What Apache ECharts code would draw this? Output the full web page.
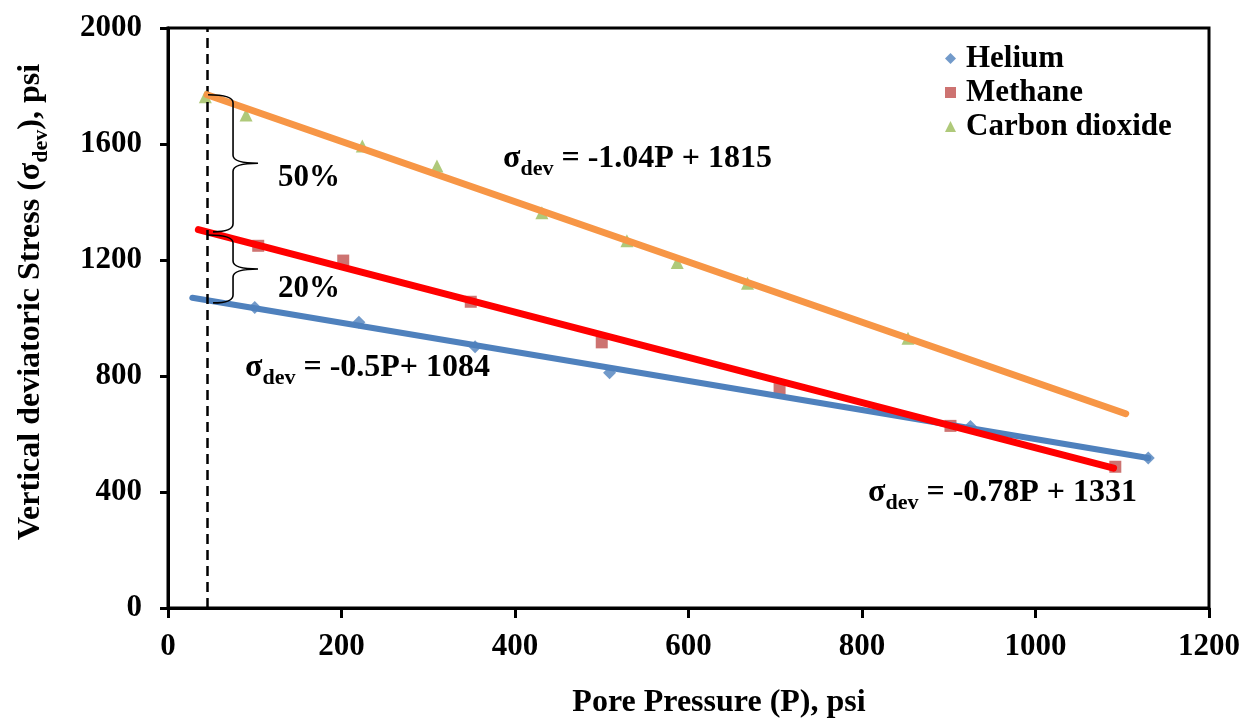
<!DOCTYPE html>
<html>
<head>
<meta charset="utf-8">
<script src="https://cdn.jsdelivr.net/npm/echarts@6/dist/echarts.min.js"></script>
<style>html,body{margin:0;padding:0;background:#fff}#c{width:1246px;height:723px}</style>
</head>
<body>
<div id="c"></div>
<script>
// ---- data ----
const xTicks = [0, 200, 400, 600, 800, 1000, 1200];
const yTicks = [0, 400, 800, 1200, 1600, 2000];

const heliumP = [100, 220, 354, 509, 925, 1130];
const heliumS = [1036, 985, 901, 811, 626, 517];
const methaneP = [104, 202, 349, 500, 705, 902, 1092];
const methaneS = [1249, 1198, 1056, 916, 755, 628, 487];
const co2P = [43, 90, 224, 310, 431, 529, 587, 668, 853];
const co2S = [1763, 1700, 1593, 1524, 1363, 1266, 1191, 1120, 930];

// trend-line end points
const heliumFitP = [28, 1130];
const heliumFitS = [1070, 517];
const methaneFitP = [35, 1090];
const methaneFitS = [1305, 482];
const co2FitP = [45, 1104];
const co2FitS = [1770, 670];

// dashed reference line
const dashP = 45;
// braces: [P, top stress, bottom stress]
const braces = [[45, 1770, 1297], [45, 1286, 1052]];

const eqCO2 = 'σ|dev| = -1.04P + 1815';
const eqHe = 'σ|dev| = -0.5P+ 1084';
const eqMe = 'σ|dev| = -0.78P + 1331';

// ---- chart ----
const FONT = "'Liberation Serif', 'Times New Roman', serif";
const zip = (a, b) => a.map((v, i) => [v, b[i]]);
const chart = echarts.init(document.getElementById('c'), null, {renderer: 'canvas'});

function richEq(s) {
  const p = s.split('|');
  return '{a|' + p[0] + '}{s|' + p[1] + '}{a|' + p[2] + '}';
}
const richStyle = {
  a: {fontFamily: FONT, fontWeight: 'bold', fontSize: 32, fill: '#000', color: '#000', lineHeight: 36, verticalAlign: 'bottom'},
  s: {fontFamily: FONT, fontWeight: 'bold', fontSize: 22, fill: '#000', color: '#000', lineHeight: 22, verticalAlign: 'bottom', padding: [0, 0, -5, 0]}
};

function braceItem(params, api) {
  const top = api.coord([api.value(0), api.value(1)]);
  const bot = api.coord([api.value(0), api.value(2)]);
  const x0 = top[0] + 1;
  const xs = x0 + 25, xt = xs + 25;
  const yt = top[1], yb = bot[1], ym = (yt + yb) / 2, r = 8;
  const d = `M${x0},${yt} Q${xs},${yt} ${xs},${yt + r} L${xs},${ym - r} Q${xs},${ym} ${xt},${ym} ` +
            `Q${xs},${ym} ${xs},${ym + r} L${xs},${yb - r} Q${xs},${yb} ${x0 + 5},${yb}`;
  return {type: 'path', shape: {pathData: d}, style: {fill: null, stroke: '#000', lineWidth: 1.6}};
}

const option = {
  animation: false,
  backgroundColor: '#fff',
  grid: {left: 168, right: 37, top: 28, bottom: 115, show: true, borderColor: '#000', borderWidth: 3, backgroundColor: 'transparent'},
  xAxis: {
    type: 'value', min: xTicks[0], max: xTicks[xTicks.length - 1], interval: 200,
    axisLine: {show: true, lineStyle: {color: '#000', width: 3}},
    axisTick: {show: true, inside: false, length: 10, lineStyle: {color: '#000', width: 3}},
    axisLabel: {margin: 23, color: '#000', fontFamily: FONT, fontWeight: 'bold', fontSize: 31, formatter: v => String(v)},
    splitLine: {show: false}
  },
  yAxis: {
    type: 'value', min: yTicks[0], max: yTicks[yTicks.length - 1], interval: 400,
    axisLine: {show: true, lineStyle: {color: '#000', width: 3}},
    axisTick: {show: true, inside: false, length: 8, lineStyle: {color: '#000', width: 3}},
    axisLabel: {margin: 26, color: '#000', fontFamily: FONT, fontWeight: 'bold', fontSize: 31, formatter: v => String(v)},
    splitLine: {show: false}
  },
  legend: {
    data: ['Helium', 'Methane', 'Carbon dioxide'],
    orient: 'vertical', left: 940, top: 38, itemGap: 3,
    itemWidth: 11, itemHeight: 11,
    textStyle: {fontFamily: FONT, fontWeight: 'bold', fontSize: 31, color: '#000', lineHeight: 30, padding: [0, 0, 0, 5]}
  },
  graphic: [
    {type: 'text', left: 503, top: 143, z: 100, style: {text: richEq(eqCO2), rich: richStyle}},
    {type: 'text', left: 245, top: 352, z: 100, style: {text: richEq(eqHe), rich: richStyle}},
    {type: 'text', left: 868, top: 477, z: 100, style: {text: richEq(eqMe), rich: richStyle}},
    {type: 'text', left: 278, top: 162, z: 100, style: {text: '50%', font: "bold 31px " + FONT, fill: '#000'}},
    {type: 'text', left: 278, top: 273, z: 100, style: {text: '20%', font: "bold 31px " + FONT, fill: '#000'}},
    {type: 'text', x: 719, y: 703, z: 100, style: {text: 'Pore Pressure (P), psi', font: "bold 32px " + FONT, fill: '#000', align: 'center', verticalAlign: 'middle'}},
    {type: 'text', x: 29, y: 302, rotation: Math.PI / 2, z: 100,
     style: {text: '{a|Vertical deviatoric Stress (σ}{s|dev}{a|), psi}', rich: richStyle, align: 'center', verticalAlign: 'middle'}}
  ],
  series: [
    {name: 'Helium', type: 'scatter', symbol: 'diamond', symbolSize: 13, z: 2,
     itemStyle: {color: '#4F81BD'}, data: zip(heliumP, heliumS),
     markLine: {silent: true, symbol: 'none', label: {show: false},
       lineStyle: {color: '#000', type: [10, 6], width: 2.5}, data: [{xAxis: dashP}]}},
    {name: 'Methane', type: 'scatter', symbol: 'rect', symbolSize: 12, z: 2,
     itemStyle: {color: '#C0504D'}, data: zip(methaneP, methaneS)},
    {name: 'Carbon dioxide', type: 'scatter', symbol: 'triangle', symbolSize: 13, z: 2,
     itemStyle: {color: '#9BBB59'}, data: zip(co2P, co2S)},
    {name: 'He fit', type: 'line', showSymbol: false, symbol: 'none', z: 3,
     lineStyle: {color: '#4F81BD', width: 6, cap: 'round'}, data: zip(heliumFitP, heliumFitS)},
    {name: 'Me fit', type: 'line', showSymbol: false, symbol: 'none', z: 4,
     lineStyle: {color: '#FF0000', width: 7, cap: 'round'}, data: zip(methaneFitP, methaneFitS)},
    {name: 'CO2 fit', type: 'line', showSymbol: false, symbol: 'none', z: 5,
     lineStyle: {color: '#F79646', width: 7, cap: 'round'}, data: zip(co2FitP, co2FitS)},
    {name: 'braces', type: 'custom', renderItem: braceItem, z: 6, clip: false,
     encode: {x: 0, y: [1, 2]}, data: braces}
  ]
};
chart.setOption(option);
</script>
</body>
</html>
